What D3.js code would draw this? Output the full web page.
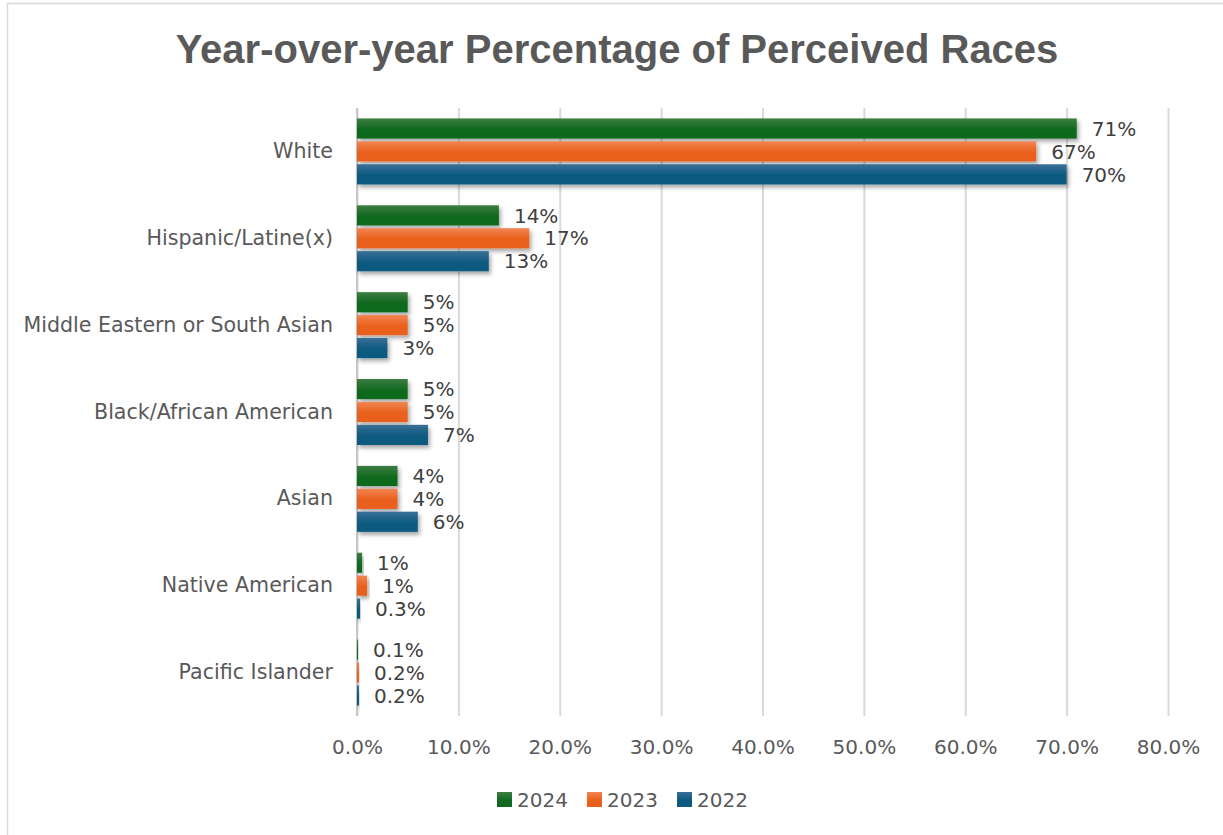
<!DOCTYPE html>
<html>
<head>
<meta charset="utf-8">
<script src="https://cdn.jsdelivr.net/npm/d3@7"></script>
<style>
  html, body { margin: 0; padding: 0; background: #ffffff; }
  svg { display: block; font-family: "DejaVu Sans", sans-serif; }
</style>
</head>
<body>
<svg id="chart" width="1223" height="835"></svg>
<script>
// Perceived race shares by year (percent)
const categories = [
  "White",
  "Hispanic/Latine(x)",
  "Middle Eastern or South Asian",
  "Black/African American",
  "Asian",
  "Native American",
  "Pacific Islander"
];
const years = ["2024", "2023", "2022"];
const values2024 = [71, 14, 5, 5, 4, 0.5, 0.1];
const values2023 = [67, 17, 5, 5, 4, 1, 0.2];
const values2022 = [70, 13, 3, 7, 6, 0.3, 0.2];
const xTicks = [0, 10, 20, 30, 40, 50, 60, 70, 80];

const seriesValues = { "2024": values2024, "2023": values2023, "2022": values2022 };
const colors = {
  "2024": ["#3d7d43", "#10691f"],
  "2023": ["#f28452", "#e9601b"],
  "2022": ["#3b6f96", "#0d5a80"]
};

const svg = d3.select("#chart");
const margin = { left: 357, right: 1168, top: 108, bottom: 716 };

// Chart frame
svg.append("rect")
  .attr("x", 7.5).attr("y", 3.5)
  .attr("width", 1240).attr("height", 900)
  .attr("fill", "#ffffff")
  .attr("stroke", "#d9d9d9").attr("stroke-width", 1.5);

const defs = svg.append("defs");
years.forEach(y => {
  const g = defs.append("linearGradient")
    .attr("id", "grad" + y)
    .attr("x1", 0).attr("y1", 0).attr("x2", 0).attr("y2", 1);
  g.append("stop").attr("offset", "0%").attr("stop-color", colors[y][0]);
  g.append("stop").attr("offset", "55%").attr("stop-color", colors[y][1]);
  g.append("stop").attr("offset", "100%").attr("stop-color", colors[y][1]);
});
const shadow = defs.append("filter").attr("id", "barShadow")
  .attr("x", "-20%").attr("y", "-30%").attr("width", "140%").attr("height", "180%");
shadow.append("feDropShadow")
  .attr("dx", 2).attr("dy", 3).attr("stdDeviation", 2)
  .attr("flood-color", "#000000").attr("flood-opacity", 0.35);

const x = d3.scaleLinear().domain([0, 80]).range([margin.left, margin.right]);
const y = d3.scaleBand().domain(categories).range([margin.top, margin.bottom]).padding(0);
const inner = d3.scaleBand().domain(years)
  .range([-33, 33]).paddingInner(0.12);

// Title
svg.append("text")
  .attr("x", 617).attr("y", 63)
  .attr("text-anchor", "middle")
  .attr("font-family", "'Liberation Sans', Arial, sans-serif")
  .attr("font-size", 40).attr("font-weight", "bold")
  .attr("fill", "#595959")
  .text("Year-over-year Percentage of Perceived Races");

// Vertical gridlines and x tick labels
const xAxis = d3.axisBottom(x)
  .tickValues(xTicks)
  .tickSize(-(margin.bottom - margin.top))
  .tickPadding(24)
  .tickFormat(d => d.toFixed(1) + "%");
const gx = svg.append("g")
  .attr("transform", `translate(0,${margin.bottom})`)
  .call(xAxis);
gx.select(".domain").remove();
gx.selectAll(".tick line").attr("stroke", "#d9d9d9").attr("stroke-width", 2);
gx.selectAll(".tick text")
  .attr("fill", "#595959").attr("font-size", 20)
  .attr("font-family", "'DejaVu Sans', sans-serif")
  .attr("dy", "0.71em");

// Category axis
const yAxis = d3.axisLeft(y).tickSize(0).tickPadding(24);
const gy = svg.append("g")
  .attr("transform", `translate(${margin.left},0)`)
  .call(yAxis);
gy.select(".domain").remove();
gy.selectAll(".tick text")
  .attr("fill", "#595959").attr("font-size", 20.6)
  .attr("font-family", "'DejaVu Sans', sans-serif");

svg.append("line")
  .attr("x1", margin.left).attr("x2", margin.left)
  .attr("y1", margin.top).attr("y2", margin.bottom)
  .attr("stroke", "#c8c8c8").attr("stroke-width", 2);

// Bars
const rows = [];
categories.forEach((c, i) => {
  years.forEach(yr => rows.push({ cat: c, year: yr, value: seriesValues[yr][i] }));
});

const fmt = v => (v < 0.5 ? v.toFixed(1) : String(Math.round(v))) + "%";

const barG = svg.append("g");
barG.selectAll("rect")
  .data(rows)
  .join("rect")
  .attr("x", x(0))
  .attr("y", d => y(d.cat) + y.bandwidth() / 2 + inner(d.year))
  .attr("width", d => x(d.value) - x(0))
  .attr("height", inner.bandwidth())
  .attr("fill", d => `url(#grad${d.year})`)
  .attr("filter", "url(#barShadow)");

svg.append("g").selectAll("text")
  .data(rows)
  .join("text")
  .attr("x", d => x(d.value) + 15)
  .attr("y", d => y(d.cat) + y.bandwidth() / 2 + inner(d.year) + inner.bandwidth() / 2)
  .attr("dy", "0.36em")
  .attr("font-size", 20)
  .attr("fill", "#404040")
  .text(d => fmt(d.value));

// Legend
const legendX = [497, 587, 677];
const legend = svg.append("g");
years.forEach((yr, i) => {
  legend.append("rect")
    .attr("x", legendX[i]).attr("y", 792)
    .attr("width", 15).attr("height", 15)
    .attr("fill", `url(#grad${yr})`);
  legend.append("text")
    .attr("x", legendX[i] + 20).attr("y", 800)
    .attr("dy", "0.36em")
    .attr("font-size", 20)
    .attr("fill", "#595959")
    .text(yr);
});
</script>
</body>
</html>
